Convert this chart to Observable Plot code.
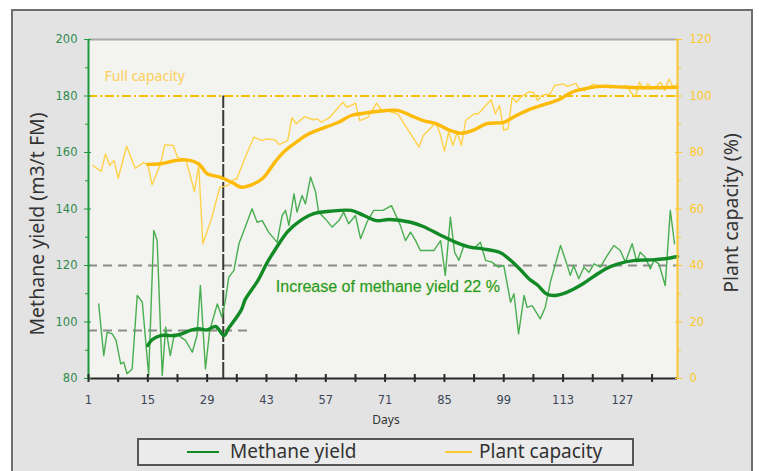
<!DOCTYPE html>
<html><head><meta charset="utf-8">
<script src="https://cdn.jsdelivr.net/npm/d3@7"></script>
<script src="https://cdn.jsdelivr.net/npm/@observablehq/plot@0.6"></script>
<style>
body{margin:0;background:#fff;}
#wrap{position:relative;width:759px;height:471px;overflow:hidden;}
#panel{position:absolute;left:11px;top:9px;width:742px;height:480px;background:#e3e3e3;border:2px solid #6f6f6f;box-sizing:border-box;}
#chart{position:absolute;left:0;top:0;}
#legend{position:absolute;left:137px;top:438px;width:497px;height:28px;border:2px solid #555;box-sizing:border-box;background:#ebebeb;font-family:"Noto Sans",sans-serif;font-size:19px;color:#333;}
.item{position:absolute;top:-1px;height:24px;line-height:24px;white-space:nowrap;}
.sw{position:absolute;top:11px;height:2px;}
</style>
</head><body>
<div id="wrap"><div id="panel"></div><div id="chart"></div><div id="legend"></div></div>
<script>
// ---- data ----
// Plant capacity, daily values (%)
const capDays = [2,4,5,6,7,8,10,12,14,15,16,18,19,21,22,24,25,26,27,28,30,32,33,34,35,36,38,40,42,43,45,46,48,49,50,52,54,55,56,58,59,61,62,64,65,67,69,70,74,76,79,80,82,83,84,85,86,87,88,89,90,92,93,96,97,98,99,100,101,102,103,105,106,107,108,110,111,113,114,116,117,118,120,122,124,126,128,129,130,131,132,133,134,135,136,137,138,139,140];
const capValues = [75.4,73.3,79.5,75.4,77.2,70.9,82.2,74.4,76.4,75.6,68.6,76.0,82.7,82.5,78.3,77.2,71.9,66.2,75.4,47.7,56.5,67.7,68.0,68.5,70.1,70.7,78.3,85.4,84.2,84.8,84.5,82.8,84.2,92.3,90.2,92.7,91.6,91.9,90.7,92.5,94.3,97.8,96.0,97.5,91.3,92.5,97.5,95.2,93.7,89.0,81.9,86.0,89.0,90.7,86.5,80.5,87.2,82.5,87.2,82.5,91.3,93.7,93.7,98.7,93.7,96.6,87.8,88.4,99.6,97.8,99.6,101.5,101.3,98.4,100.2,100.8,103.7,104.3,103.4,104.5,102.2,101.9,104.1,103.6,103.4,103.0,103.7,101.3,99.6,104.9,102.5,104.3,102.8,103.5,104.9,102.0,106.0,103.1,104.0];
// Plant capacity, moving average (%)
const capAvgDays = [15,18,21,24,27,29,32,35,37,39,42,45,47,50,53,57,60,63,66,69,74,77,80,83,86,89,92,95,99,102,105,109,112,115,118,122,128,132,140];
const capAvgValues = [75.8,76.0,77.0,77.4,76.0,72.5,71.3,69.3,67.7,68.3,70.7,76.6,80.1,83.6,86.6,89.0,90.7,93.1,93.9,94.5,94.9,93.1,91.3,90.2,88.0,86.8,88.0,90.2,90.7,93.1,95.2,97.2,98.7,101.3,102.5,103.4,103.1,102.9,103.1];
// Methane yield, daily values (m3/t FM)
const yieldDays = [3.4,4.6,5.4,6.6,7.5,8.6,9.3,10.1,11.3,12.5,13.7,15.2,16.4,17.2,18.4,19.2,20.3,21.1,22.3,23.9,25.5,26.6,27.4,28.0,28.6,29.6,31.4,32.5,33.3,34.1,35.3,36.5,38.0,39.6,40.8,42.0,43.5,45.5,46.7,47.5,48.3,49.5,50.2,51.4,52.2,53.4,54.6,55.3,56.9,58.5,60.1,61.2,62.4,64.0,65.2,66.7,68.3,70.5,72.5,74.6,75.8,77.0,78.2,79.3,82.5,84.1,85.2,86.4,87.4,88.4,89.6,91.9,93.5,94.7,96.2,97.8,99.0,100.6,101.4,102.5,103.8,104.5,105.7,107.6,108.8,110.0,112.4,113.6,114.7,115.5,116.7,117.9,119.1,120.3,121.8,123.4,125.0,126.5,127.7,129.3,130.4,131.2,132.4,133.6,134.4,135.6,137.1,138.3,139.3];
const yieldValues = [106.4,88.1,96.4,95.8,93.5,85.2,85.8,81.7,83.4,109.4,107.0,81.1,132.4,128.9,81.1,98.2,88.1,94.6,95.2,93.5,89.3,95.2,112.9,98.2,83.4,97.0,106.4,101.7,107.6,115.9,118.2,127.7,133.6,140.1,135.3,135.9,131.8,128.2,137.7,139.5,134.2,145.4,138.9,144.8,141.8,151.3,146.0,138.9,136.5,133.6,135.9,138.9,134.8,137.7,129.5,135.3,139.5,139.5,141.2,134.2,128.8,131.8,128.8,125.3,125.3,128.8,116.5,137.1,124.7,121.8,127.1,125.9,128.2,121.8,121.2,119.4,120.0,107.0,110.0,95.8,109.4,105.2,105.8,101.1,105.2,114.1,127.1,121.8,116.5,120.0,115.3,119.4,117.6,120.6,119.4,123.5,127.1,125.3,121.2,127.7,121.2,124.7,122.9,118.8,121.8,120.6,112.9,139.5,127.7];
// Methane yield, moving average (m3/t FM)
const yieldAvgDays = [15,16,18,21,23,25,27,29,31,33,34,37,38,41,43,45,48,51,54,58,63,66,69,72,77,80,84,88,91,94,98,100,103,105,107,109,111,114,117,120,123,126,130,134,137,140];
const yieldAvgValues = [91.7,93.7,95.2,95.2,95.8,97.0,97.6,97.2,98.4,95.2,97.6,104.1,108.0,114.7,120.6,125.5,132.0,135.9,138.3,139.2,139.5,137.7,135.9,136.3,135.3,133.8,130.8,128.0,126.5,125.9,124.7,122.6,118.4,115.2,113.0,110.0,109.4,110.6,112.9,115.9,118.8,120.6,121.8,122.0,122.4,123.2];
// reference levels
const fullCapacity = 100;          // %
const capacityAxisOffset = 80;     // right axis = left axis - 80
const baselineYield = 97;          // m3/t FM before change
const targetYield = 120;           // m3/t FM
const changeDay = 32.8;
const baselineEndDay = 38.8;
const yTicks = [80,100,120,140,160,180,200];
const yMinor = [90,110,130,150,170,190];
const xTicks = [1,8,15,22,29,36,43,50,57,64,71,78,85,92,99,106,113,120,127,134];
const xLabels = [1,15,29,43,57,71,85,99,113,127];
const seriesNames = ["Methane yield","Plant capacity"];
const annotations = ["Full capacity","Increase of methane yield 22 %"];
const titles = ["Methane yield (m3/t FM)","Plant capacity (%)","Days"];

// ---- tables ----
const cap = capDays.map((d,i)=>({day:d, v:capValues[i]+capacityAxisOffset}));
const capAvg = capAvgDays.map((d,i)=>({day:d, v:capAvgValues[i]+capacityAxisOffset}));
const yld = yieldDays.map((d,i)=>({day:d, v:yieldValues[i]}));
const yldAvg = yieldAvgDays.map((d,i)=>({day:d, v:yieldAvgValues[i]}));

const GREEN_AX="#1e9a3c", GREEN_TXT="#2f8a4c", GREEN_THIN="#48ae50", GREEN_THICK="#128a26";
const YEL_AX="#fcc82c", YEL_THIN="#ffd24a", YEL_THICK="#fbbb08";
const TICKFONT="DejaVu Sans";

const chart = Plot.plot({
  width: 759, height: 430,
  marginLeft: 88, marginRight: 82, marginTop: 39, marginBottom: 52,
  x: {domain: [1, 140], label: null},
  y: {domain: [80, 200], label: null},
  style: {background: "transparent", fontFamily: "Liberation Sans"},
  marks: [
    Plot.frame({fill: "#f3f3ef", stroke: null}),
    Plot.ruleY([200], {stroke: "#a9a9a9", strokeWidth: 2}),
    // reference lines
    Plot.ruleY([targetYield], {stroke: "#8c8c88", strokeWidth: 2, strokeDasharray: "9,6"}),
    Plot.ruleY([baselineYield], {x1: 1, x2: baselineEndDay, stroke: "#8c8c88", strokeWidth: 2, strokeDasharray: "9,6"}),
    Plot.ruleY([fullCapacity + capacityAxisOffset], {stroke: "#f4c000", strokeWidth: 2, strokeDasharray: "9,3,2,3"}),
    Plot.ruleX([changeDay], {y1: 80, y2: fullCapacity + capacityAxisOffset, stroke: "#3a3a36", strokeWidth: 2, strokeDasharray: "16,2"}),
    // raw series
    Plot.line(cap, {x: "day", y: "v", stroke: YEL_THIN, strokeWidth: 1.4}),
    Plot.line(yld, {x: "day", y: "v", stroke: GREEN_THIN, strokeWidth: 1.4}),
    // moving averages
    Plot.line(capAvg, {x: "day", y: "v", stroke: YEL_THICK, strokeWidth: 3.4, curve: "catmull-rom"}),
    Plot.line(yldAvg, {x: "day", y: "v", stroke: GREEN_THICK, strokeWidth: 3.4, curve: "catmull-rom"}),
    // annotations
    Plot.text([annotations[0]], {x: 4.8, y: 187, textAnchor: "start", fill: "#fbd05c", fontSize: 14, fontFamily: "Noto Sans"}),
    Plot.text([annotations[1]], {x: 45.2, y: 112.3, textAnchor: "start", fill: "#1f9a37", fontSize: 16, fontFamily: "Liberation Sans", stroke: "#c8dc50", strokeWidth: 0.5, paintOrder: "stroke"}),
    // axis lines
    Plot.ruleX([1], {stroke: GREEN_AX, strokeWidth: 2}),
    Plot.ruleX([140], {stroke: YEL_AX, strokeWidth: 2}),
    Plot.ruleY([80], {stroke: "#2b2b2b", strokeWidth: 2}),
    // left axis
    Plot.axisY({ticks: yTicks, tickSize: 4, tickPadding: 7, stroke: GREEN_AX, fill: GREEN_TXT, fontSize: 11.5, fontFamily: TICKFONT, label: null}),
    Plot.axisY({ticks: yTicks, tickSize: 3, dx: 3, tickFormat: () => "", stroke: GREEN_AX, label: null}),
    Plot.axisY({ticks: yMinor, tickSize: 3, tickFormat: () => "", stroke: GREEN_AX, label: null}),
    // right axis
    Plot.axisY({anchor: "right", ticks: yTicks, tickSize: 4, tickPadding: 8, tickFormat: d => d - capacityAxisOffset, stroke: YEL_AX, fill: YEL_AX, fontSize: 11.5, fontFamily: TICKFONT, label: null}),
    Plot.axisY({anchor: "right", ticks: yTicks, tickSize: 3, dx: -3, tickFormat: () => "", stroke: YEL_AX, label: null}),
    Plot.axisY({anchor: "right", ticks: yMinor, tickSize: 3, tickFormat: () => "", stroke: YEL_AX, label: null}),
    // bottom axis
    Plot.axisX({ticks: xTicks, tickSize: 4, tickFormat: () => "", stroke: "#2b2b2b", strokeWidth: 2, label: null}),
    Plot.axisX({ticks: xTicks, tickSize: 4, dy: -4, tickFormat: () => "", stroke: "#2b2b2b", strokeWidth: 2, label: null}),
    Plot.axisX({ticks: xLabels, tickSize: 0, tickPadding: 17, fill: "#3c4658", fontSize: 11.5, fontFamily: TICKFONT, label: null}),
    // titles
    Plot.text([titles[0]], {frameAnchor: "left", textAnchor: "middle", dx: -51, dy: 15, rotate: -90, fontSize: 19.5, fill: "#333", fontFamily: "Noto Sans"}),
    Plot.text([titles[1]], {frameAnchor: "right", textAnchor: "middle", dx: 54, dy: 4, rotate: -90, fontSize: 19.5, fill: "#333", fontFamily: "Noto Sans"}),
    Plot.text([titles[2]], {frameAnchor: "bottom", textAnchor: "middle", dx: 3, dy: 45, fontSize: 12, fill: "#333", fontFamily: "Noto Sans"})
  ]
});
document.getElementById("chart").appendChild(chart);

// legend
const lg = document.getElementById("legend");
const legendItems = [
  {name: seriesNames[0], color: GREEN_THICK, sx: 48, sw: 32, tx: 91},
  {name: seriesNames[1], color: YEL_AX, sx: 306, sw: 27, tx: 340}
];
for (const it of legendItems) {
  const s = document.createElement("div");
  s.className = "sw"; s.style.left = it.sx + "px"; s.style.width = it.sw + "px"; s.style.background = it.color;
  lg.appendChild(s);
  const t = document.createElement("div");
  t.className = "item"; t.style.left = it.tx + "px"; t.textContent = it.name;
  lg.appendChild(t);
}
</script>
</body></html>
